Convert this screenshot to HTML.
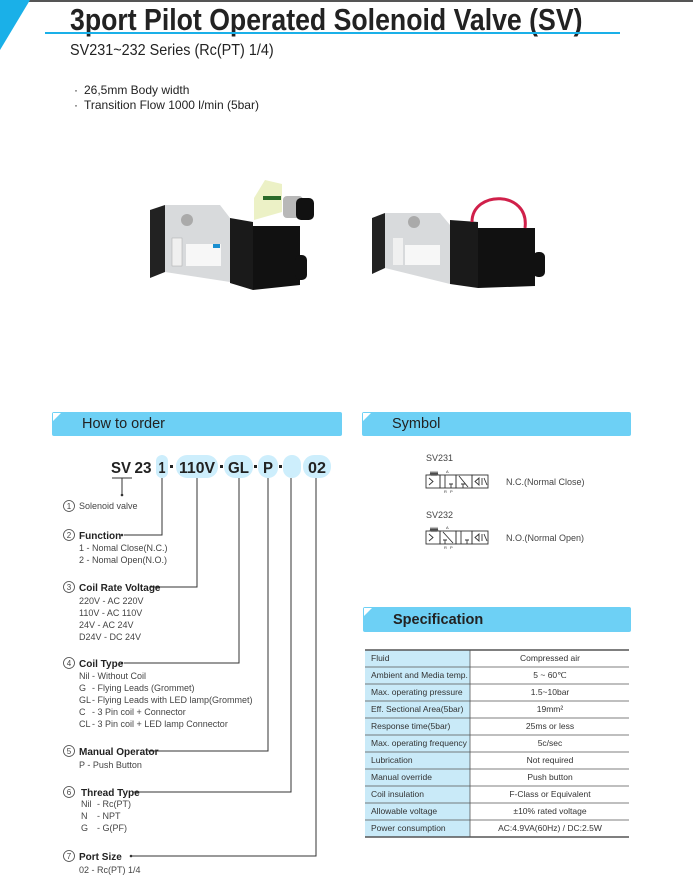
<!DOCTYPE html>
<html><head><meta charset="utf-8"><style>
html,body{margin:0;padding:0;background:#fff;}
svg{display:block;font-family:"Liberation Sans",sans-serif;}
</style></head><body>
<svg width="693" height="893" viewBox="0 0 693 893" xmlns="http://www.w3.org/2000/svg">
<rect x="0" y="0" width="693" height="2" fill="#555"/>
<polygon points="0,0 30,0 0,50" fill="#1ab0e8"/>
<text x="70" y="30" font-size="31" font-weight="bold" fill="#222" transform="translate(70 0) scale(0.86 1) translate(-70 0)">3port Pilot Operated Solenoid Valve (SV)</text>
<rect x="45" y="32" width="575" height="2" fill="#1ab0e8"/>
<text x="70" y="55" font-size="16" fill="#222" transform="translate(70 0) scale(0.9 1) translate(-70 0)">SV231~232 Series (Rc(PT) 1/4)</text>
<text x="74" y="94" font-size="12" fill="#222">· <tspan x="84">26,5mm Body width</tspan></text>
<text x="74" y="109" font-size="12" fill="#222">· <tspan x="84">Transition Flow 1000 l/min (5bar)</tspan></text>

<!-- left valve -->
<g>
<polygon points="150,210 165,205 165,272 150,278" fill="#222"/>
<polygon points="165,205 220,205 230,218 230,282 165,272" fill="#d8dadc"/>
<rect x="172" y="238" width="10" height="28" fill="#f0f0f0" stroke="#aaa" stroke-width="0.5"/>
<circle cx="187" cy="220" r="6" fill="#aaa"/>
<rect x="186" y="244" width="35" height="22" fill="#f7f7f7"/>
<rect x="213" y="244" width="7" height="4" fill="#1a8fd0"/>
<polygon points="230,218 253,222 253,290 230,283" fill="#1a1a1a"/>
<polygon points="253,226 300,226 300,285 253,290" fill="#111"/>
<polygon points="254,198 265,180 282,184 282,212 254,220" fill="#eaf0c0" opacity="0.9"/>
<rect x="263" y="196" width="18" height="4" fill="#2a6a2a"/>
<rect x="283" y="196" width="20" height="22" rx="4" fill="#b8b8b8"/>
<rect x="296" y="198" width="18" height="22" rx="5" fill="#111"/>
<rect x="295" y="255" width="12" height="25" rx="5" fill="#111"/>
</g>
<!-- right valve -->
<g>
<polygon points="372,218 385,213 385,268 372,274" fill="#222"/>
<polygon points="385,213 440,213 450,225 450,284 385,268" fill="#d8dadc"/>
<rect x="393" y="238" width="10" height="27" fill="#f0f0f0"/>
<circle cx="414" cy="222" r="6" fill="#aaa"/>
<rect x="405" y="245" width="35" height="20" fill="#f7f7f7"/>
<polygon points="450,220 478,222 478,288 450,284" fill="#1a1a1a"/>
<polygon points="478,228 535,228 535,286 478,288" fill="#111"/>
<path d="M472 222 C472 190, 530 190, 525 228" stroke="#d0204a" stroke-width="3" fill="none"/>
<rect x="533" y="252" width="12" height="25" rx="5" fill="#111"/>
</g>

<!-- header bars -->
<rect x="52" y="412" width="290" height="24" rx="2" fill="#6dd0f5"/>
<polygon points="53,413 61,413 53,421" fill="#fff"/>
<text x="82" y="428" font-size="14.5" fill="#222">How to order</text>
<rect x="362" y="412" width="269" height="24" rx="2" fill="#6dd0f5"/>
<polygon points="363,413 371,413 363,421" fill="#fff"/>
<text x="392" y="428" font-size="14.5" fill="#222">Symbol</text>
<rect x="363" y="607" width="268" height="25" rx="2" fill="#6dd0f5"/>
<polygon points="364,608 372,608 364,616" fill="#fff"/>
<text x="393" y="624" font-size="14.5" font-weight="bold" fill="#222">Specification</text>

<!-- order code -->
<g fill="#cdeefc">
<rect x="156" y="455" width="12" height="23" rx="6"/>
<rect x="176" y="455" width="42" height="23" rx="11"/>
<rect x="224" y="455" width="29" height="23" rx="11"/>
<rect x="258" y="455" width="20" height="23" rx="10"/>
<rect x="283" y="455" width="18" height="23" rx="9"/>
<rect x="303" y="455" width="28" height="23" rx="11"/>
</g>
<g font-size="16" font-weight="bold" fill="#222" text-anchor="middle" lengthAdjust="spacingAndGlyphs">
<text x="121" y="473" textLength="20" lengthAdjust="spacingAndGlyphs">SV</text>
<text x="143" y="473" textLength="17" lengthAdjust="spacingAndGlyphs">23</text>
<text x="162" y="473" textLength="7" lengthAdjust="spacingAndGlyphs">1</text>
<text x="197" y="473" textLength="36" lengthAdjust="spacingAndGlyphs">110V</text>
<text x="238.5" y="473" textLength="21" lengthAdjust="spacingAndGlyphs">GL</text>
<text x="268" y="473" textLength="10" lengthAdjust="spacingAndGlyphs">P</text>
<text x="317" y="473" textLength="18" lengthAdjust="spacingAndGlyphs">02</text>
</g>
<g fill="#222">
<rect x="170" y="465" width="3" height="3"/>
<rect x="220" y="465" width="3" height="3"/>
<rect x="254" y="465" width="3" height="3"/>
<rect x="279" y="465" width="3" height="3"/>
</g>
<g stroke="#333" stroke-width="1" fill="none">
<path d="M112 478 H132 M122 478 V495"/>
<path d="M124 535 H162 V478"/>
<path d="M150 587 H197 V478"/>
<path d="M124 663 H239 V478"/>
<path d="M148 751 H268 V478"/>
<path d="M133 792 H291 V478"/>
<path d="M131 856 H316 V478"/>
</g>
<g fill="#333"><circle cx="122" cy="495" r="1.3"/><circle cx="122" cy="535" r="1.3"/><circle cx="122" cy="663" r="1.3"/><circle cx="131" cy="856" r="1.3"/></g>

<g font-size="9" fill="#444">
<g fill="none" stroke="#444" stroke-width="0.8">
<circle cx="69" cy="506" r="5.5"/><circle cx="69" cy="535" r="5.5"/><circle cx="69" cy="587" r="5.5"/><circle cx="69" cy="663" r="5.5"/><circle cx="69" cy="751" r="5.5"/><circle cx="69" cy="792" r="5.5"/><circle cx="69" cy="856" r="5.5"/>
</g>
<g font-size="8" text-anchor="middle" fill="#444">
<text x="69" y="509">1</text><text x="69" y="538">2</text><text x="69" y="590">3</text><text x="69" y="666">4</text><text x="69" y="754">5</text><text x="69" y="795">6</text><text x="69" y="859">7</text>
</g>
<text x="79" y="509">Solenoid valve</text>
<g font-weight="bold" font-size="10" fill="#222">
<text x="79" y="539">Function</text>
<text x="79" y="591">Coil Rate Voltage</text>
<text x="79" y="667">Coil Type</text>
<text x="79" y="755">Manual Operator</text>
<text x="81" y="796">Thread Type</text>
<text x="79" y="860">Port Size</text>
</g>
<text x="79" y="551">1  - Nomal Close(N.C.)</text>
<text x="79" y="563">2  - Nomal Open(N.O.)</text>
<text x="79" y="604">220V  - AC 220V</text>
<text x="79" y="616">110V  - AC 110V</text>
<text x="79" y="628">24V    - AC 24V</text>
<text x="79" y="640">D24V  - DC 24V</text>
<text x="79" y="679">Nil</text><text x="92" y="679">- Without Coil</text>
<text x="79" y="691">G</text><text x="92" y="691">- Flying Leads (Grommet)</text>
<text x="79" y="703">GL</text><text x="92" y="703">- Flying Leads with LED lamp(Grommet)</text>
<text x="79" y="715">C</text><text x="92" y="715">- 3 Pin coil + Connector</text>
<text x="79" y="727">CL</text><text x="92" y="727">- 3 Pin coil + LED lamp Connector</text>
<text x="79" y="768">P  - Push Button</text>
<text x="81" y="807">Nil</text><text x="97" y="807">-  Rc(PT)</text>
<text x="81" y="819">N</text><text x="97" y="819">-  NPT</text>
<text x="81" y="831">G</text><text x="97" y="831">-  G(PF)</text>
<text x="79" y="873">02 - Rc(PT) 1/4</text>
</g>

<!-- symbols -->
<g font-size="9" fill="#444">
<text x="426" y="461">SV231</text>
<text x="506" y="485">N.C.(Normal Close)</text>
<text x="426" y="518">SV232</text>
<text x="506" y="541">N.O.(Normal Open)</text>
</g>
<g stroke="#333" stroke-width="0.9" fill="none" font-size="4">
<g transform="translate(426 470)">
<rect x="0" y="5" width="14" height="13"/><rect x="14" y="5" width="16" height="13"/><rect x="30" y="5" width="16" height="13"/><rect x="46" y="5" width="16" height="13"/>
<path d="M3 8 L7 11.5 L3 15 M4 5 l1 -3 l1 3 l1 -3 l1 3 l1 -3 l1 3 l1 -3 l1 3"/>
<path d="M19 5 V18 M25 18 V14 M23 14 H27 M37 18 V14 M35 14 H39 M33 6 L42 17 M49 11.5 L53 8 L53 15 Z M56 8 V15 M58 8 L61 15"/>
<text x="20" y="3" fill="#333" stroke="none">A</text><text x="18" y="23" fill="#333" stroke="none">R</text><text x="24" y="23" fill="#333" stroke="none">P</text>
</g>
<g transform="translate(426 526)">
<rect x="0" y="5" width="14" height="13"/><rect x="14" y="5" width="16" height="13"/><rect x="30" y="5" width="16" height="13"/><rect x="46" y="5" width="16" height="13"/>
<path d="M3 8 L7 11.5 L3 15 M4 5 l1 -3 l1 3 l1 -3 l1 3 l1 -3 l1 3 l1 -3 l1 3"/>
<path d="M17 6 L27 17 M19 18 V14 M17 14 H21 M35 5 V18 M41 18 V14 M39 14 H43 M49 11.5 L53 8 L53 15 Z M56 8 V15 M58 8 L61 15"/>
<text x="20" y="3" fill="#333" stroke="none">A</text><text x="18" y="23" fill="#333" stroke="none">R</text><text x="24" y="23" fill="#333" stroke="none">P</text>
</g>
</g>

<!-- spec table -->
<rect x="365" y="650" width="105" height="187" fill="#c9eaf8"/>
<g stroke="#555" stroke-width="0.8">
<line x1="365" y1="650" x2="629" y2="650" stroke-width="1.5"/>
<line x1="365" y1="667" x2="629" y2="667"/><line x1="365" y1="684" x2="629" y2="684"/><line x1="365" y1="701" x2="629" y2="701"/><line x1="365" y1="718" x2="629" y2="718"/><line x1="365" y1="735" x2="629" y2="735"/><line x1="365" y1="752" x2="629" y2="752"/><line x1="365" y1="769" x2="629" y2="769"/><line x1="365" y1="786" x2="629" y2="786"/><line x1="365" y1="803" x2="629" y2="803"/><line x1="365" y1="820" x2="629" y2="820"/>
<line x1="365" y1="837" x2="629" y2="837" stroke-width="1.5"/>
<line x1="470" y1="650" x2="470" y2="837"/>
</g>
<g font-size="8.5" fill="#333">
<text x="371" y="661">Fluid</text>
<text x="371" y="678">Ambient and Media temp.</text>
<text x="371" y="695">Max. operating pressure</text>
<text x="371" y="712">Eff. Sectional Area(5bar)</text>
<text x="371" y="729">Response time(5bar)</text>
<text x="371" y="746">Max. operating frequency</text>
<text x="371" y="763">Lubrication</text>
<text x="371" y="780">Manual override</text>
<text x="371" y="797">Coil insulation</text>
<text x="371" y="814">Allowable voltage</text>
<text x="371" y="831">Power consumption</text>
</g>
<g font-size="8.5" fill="#333" text-anchor="middle">
<text x="550" y="661">Compressed air</text>
<text x="550" y="678">5 ~ 60℃</text>
<text x="550" y="695">1.5~10bar</text>
<text x="550" y="712">19mm²</text>
<text x="550" y="729">25ms or less</text>
<text x="550" y="746">5c/sec</text>
<text x="550" y="763">Not required</text>
<text x="550" y="780">Push button</text>
<text x="550" y="797">F-Class or Equivalent</text>
<text x="550" y="814">±10% rated voltage</text>
<text x="550" y="831">AC:4.9VA(60Hz) / DC:2.5W</text>
</g>
</svg>
</body></html>
